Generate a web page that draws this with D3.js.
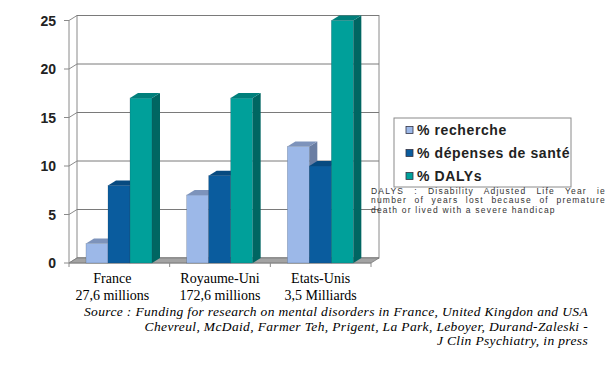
<!DOCTYPE html>
<html>
<head>
<meta charset="utf-8">
<script src="https://cdn.jsdelivr.net/npm/d3@7"></script>
<style>
	body { margin: 0; background: #fff; }
</style>
</head>
<body>
<div id="chart"></div>
<script>

// data
var countries = ["France", "Royaume-Uni", "Etats-Unis"];
var populations = ["27,6 millions", "172,6 millions", "3,5 Milliards"];
var series = ["% recherche", "% dépenses de santé", "% DALYs"];
var recherche = [2, 7, 12];
var depenses = [8, 9, 10];
var dalys = [17, 17, 25];
var yTicks = [0, 5, 10, 15, 20, 25];
var noteLines = [
	"DALYS : Disability Adjusted Life Year ie",
	"number of years lost because of premature",
	"death or lived with a severe handicap"
];
var sourceLines = [
	"Source : Funding for research on mental disorders in France, United Kingdon and USA",
	"Chevreul, McDaid, Farmer Teh, Prigent, La Park, Leboyer, Durand-Zaleski -",
	"J Clin Psychiatry, in press"
];

var values = [recherche, depenses, dalys];
var colors = {
	front: ["#9cb8e8", "#0a5c9e", "#00a09a"],
	top: ["#7d93bb", "#074a80", "#007f7b"],
	side: ["#6a7ea3", "#053d69", "#006662"]
};

var svg = d3.select("#chart")
	.append("svg")
	.attr("width", 611)
	.attr("height", 370);

// 3D depth offset
var dx = 8, dy = -5;

var x0 = d3.scaleBand()
	.domain(countries)
	.range([69, 371]);

var x1 = d3.scaleBand()
	.domain(series)
	.range([17, 83]);

var y = d3.scaleLinear()
	.domain([0, 25])
	.range([263, 20.5]);

var left = x0.range()[0], right = x0.range()[1];

// (wall) back wall and gridlines
svg.append("rect")
	.attr("x", left + dx)
	.attr("y", y(25) + dy)
	.attr("width", right - left)
	.attr("height", y(0) - y(25))
	.attr("fill", "#fff")
	.attr("stroke", "#8a8a8a")
	.attr("stroke-width", 1);

svg.selectAll("line.grid")
	.data(yTicks)
	.enter()
	.append("line")
	.attr("class", "grid")
	.attr("x1", left + dx)
	.attr("x2", right + dx)
	.attr("y1", function(d) { return y(d) + dy; })
	.attr("y2", function(d) { return y(d) + dy; })
	.attr("stroke", "#7a7a7a")
	.attr("stroke-width", 1);

// (side) side wall diagonals
svg.selectAll("line.diag")
	.data(yTicks)
	.enter()
	.append("line")
	.attr("x1", left)
	.attr("x2", left + dx)
	.attr("y1", function(d) { return y(d); })
	.attr("y2", function(d) { return y(d) + dy; })
	.attr("stroke", "#8a8a8a");

// (floor)
svg.append("path")
	.attr("d", "M" + left + "," + y(0) + "L" + (left + dx) + "," + (y(0) + dy) +
		"L" + (right + dx) + "," + (y(0) + dy) + "L" + right + "," + y(0) + "Z")
	.attr("fill", "#a3a3a3")
	.attr("stroke", "#7a7a7a")
	.attr("stroke-width", 0.8);

// (axis) front y axis
svg.append("line")
	.attr("x1", left).attr("x2", left)
	.attr("y1", y(25)).attr("y2", y(0))
	.attr("stroke", "#8a8a8a");

svg.selectAll("line.ytick")
	.data(yTicks)
	.enter()
	.append("line")
	.attr("x1", left - 5).attr("x2", left)
	.attr("y1", function(d) { return y(d); })
	.attr("y2", function(d) { return y(d); })
	.attr("stroke", "#8a8a8a");

svg.selectAll("text.ylab")
	.data(yTicks)
	.enter()
	.append("text")
	.attr("x", left - 13)
	.attr("y", function(d) { return y(d); })
	.attr("dy", "0.36em")
	.attr("text-anchor", "end")
	.attr("font-family", "Liberation Sans, Arial, sans-serif")
	.attr("font-weight", "bold")
	.attr("font-size", "14px")
	.attr("fill", "#222")
	.text(function(d) { return d; });

// (axis) x axis ticks
var xEdges = countries.map(function(c) { return x0(c); }).concat([right]);
svg.append("line")
	.attr("x1", left).attr("x2", right)
	.attr("y1", y(0)).attr("y2", y(0))
	.attr("stroke", "#8a8a8a");
svg.selectAll("line.xtick")
	.data(xEdges)
	.enter()
	.append("line")
	.attr("x1", function(d) { return d; })
	.attr("x2", function(d) { return d; })
	.attr("y1", y(0)).attr("y2", y(0) + 4)
	.attr("stroke", "#8a8a8a");

// (bars) 3D bars, drawn left to right
var bars = [];
countries.forEach(function(c, i) {
	series.forEach(function(s, j) {
		bars.push({country: c, series: j, value: values[j][i]});
	});
});

var w = x1.bandwidth();
var g = svg.selectAll("g.bar")
	.data(bars)
	.enter()
	.append("g");

g.append("path")
	.attr("d", function(d) {
		var x = x0(d.country) + x1(series[d.series]), t = y(d.value);
		return "M" + (x + w) + "," + y(0) + "L" + (x + w + dx) + "," + (y(0) + dy) +
			"L" + (x + w + dx) + "," + (t + dy) + "L" + (x + w) + "," + t + "Z";
	})
	.attr("fill", function(d) { return colors.side[d.series]; });

g.append("rect")
	.attr("x", function(d) { return x0(d.country) + x1(series[d.series]); })
	.attr("y", function(d) { return y(d.value); })
	.attr("width", w)
	.attr("height", function(d) { return y(0) - y(d.value); })
	.attr("fill", function(d) { return colors.front[d.series]; })
	.attr("stroke", "#2a3a50")
	.attr("stroke-opacity", 0.35)
	.attr("stroke-width", 0.6);

g.append("path")
	.attr("d", function(d) {
		var x = x0(d.country) + x1(series[d.series]), t = y(d.value);
		return "M" + x + "," + t + "L" + (x + dx) + "," + (t + dy) +
			"L" + (x + w + dx) + "," + (t + dy) + "L" + (x + w) + "," + t + "Z";
	})
	.attr("fill", function(d) { return colors.top[d.series]; });

// (xlabels) category labels
var xl = svg.selectAll("text.xlab")
	.data(countries)
	.enter()
	.append("text")
	.attr("text-anchor", "middle")
	.attr("font-family", "Liberation Serif, Times New Roman, serif")
	.attr("font-size", "14px")
	.attr("fill", "#000");
xl.append("tspan")
	.attr("x", function(d, i) { return x0(d) + x0.bandwidth() / 2 - (i === 0 ? 7 : 0); })
	.attr("y", 283)
	.text(function(d) { return d; });
xl.append("tspan")
	.attr("x", function(d, i) { return x0(d) + x0.bandwidth() / 2 - (i === 0 ? 7 : 0); })
	.attr("y", 300)
	.text(function(d, i) { return populations[i]; });

// (legend)
var legend = svg.append("g").attr("transform", "translate(394,118)");
legend.append("rect")
	.attr("width", 177)
	.attr("height", 69)
	.attr("fill", "#fff")
	.attr("stroke", "#8a8a8a");
var li = legend.selectAll("g.item")
	.data(series)
	.enter()
	.append("g")
	.attr("transform", function(d, i) { return "translate(12," + (12 + i * 23) + ")"; });
li.append("rect")
	.attr("x", 0).attr("y", -3.5)
	.attr("width", 7).attr("height", 7)
	.attr("fill", function(d, i) { return colors.front[i]; })
	.attr("stroke", "#334")
	.attr("stroke-width", 0.8);
li.append("text")
	.attr("x", 11)
	.attr("dy", "0.36em")
	.attr("font-family", "Liberation Sans, Arial, sans-serif")
	.attr("font-weight", "bold")
	.attr("font-size", "14px")
	.attr("letter-spacing", "0.6px")
	.attr("fill", "#222")
	.text(function(d) { return d; });

// (note) DALY definition, justified by word spacing
var note = svg.selectAll("text.note")
	.data(noteLines)
	.enter()
	.append("text")
	.attr("x", 371)
	.attr("y", function(d, i) { return 194 + i * 9.3; })
	.attr("font-family", "Liberation Sans, Arial, sans-serif")
	.attr("font-size", "8.5px")
	.attr("letter-spacing", "1.2px")
	.attr("fill", "#333")
	.text(function(d) { return d; });
note.each(function(d, i) {
	if (i > 1) return;
	var len = this.getComputedTextLength();
	var gaps = d.split(" ").length - 1;
	d3.select(this).attr("word-spacing", ((235 - len) / gaps) + "px");
});

// (source)
svg.selectAll("text.source")
	.data(sourceLines)
	.enter()
	.append("text")
	.attr("x", 588)
	.attr("y", function(d, i) { return 316 + i * 14.5; })
	.attr("text-anchor", "end")
	.attr("font-family", "Liberation Serif, Times New Roman, serif")
	.attr("font-style", "italic")
	.attr("font-size", "13.5px")
	.attr("letter-spacing", "0.35px")
	.attr("fill", "#000")
	.text(function(d) { return d; });

</script>
</body>
</html>
